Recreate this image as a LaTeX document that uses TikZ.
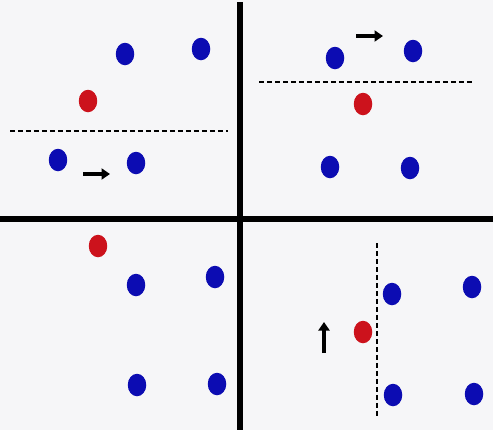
\documentclass[tikz,border=0pt]{standalone}
\usetikzlibrary{arrows.meta,shapes.geometric}
\definecolor{bg}{RGB}{246,246,248}
\definecolor{dotblue}{RGB}{12,12,178}
\definecolor{dotred}{RGB}{204,18,28}
\tikzset{
    bdot/.style={ellipse, fill=dotblue, minimum width=0.37cm, minimum height=0.45cm, inner sep=0pt},
    rdot/.style={ellipse, fill=dotred, minimum width=0.37cm, minimum height=0.45cm, inner sep=0pt},
    sep/.style={line width=1.3pt, dash pattern=on 0.1cm off 0.06cm},
    move/.style={line width=2.1pt, -{Triangle[length=0.17cm, width=0.22cm]}}
}
\begin{document}
\begin{tikzpicture}[x=0.02cm, y=-0.02cm]
                \fill[bg](0,0) rectangle (493,430);
                \useasboundingbox (0,0) rectangle (493,430);
                \draw[line width=3.6pt](240,2)--(240,430);
                \draw[line width=3.6pt](0,219)--(493,219);
                \draw[sep](10,131)--(228,131);
                \draw[sep](259,82)--(474,82);
                \draw[sep](377,243)--(377,417);
                \node[bdot] (tl1) at (125,54) {};
                \node[bdot] (tl2) at (201,49) {};
                \node[rdot] (tl3) at (88,101) {};
                \node[bdot] (tl4) at (58,160) {};
                \node[bdot] (tl5) at (136,163) {};
                \node[bdot] (tr1) at (335,58) {};
                \node[bdot] (tr2) at (413,51) {};
                \node[rdot] (tr3) at (363,104) {};
                \node[bdot] (tr4) at (330,167) {};
                \node[bdot] (tr5) at (410,168) {};
                \node[rdot] (bl1) at (98,246) {};
                \node[bdot] (bl2) at (136,285) {};
                \node[bdot] (bl3) at (215,277) {};
                \node[bdot] (bl4) at (137,385) {};
                \node[bdot] (bl5) at (217,384) {};
                \node[bdot] (br1) at (392,294) {};
                \node[bdot] (br2) at (472,287) {};
                \node[rdot] (br3) at (363,332) {};
                \node[bdot] (br4) at (393,395) {};
                \node[bdot] (br5) at (474,394) {};
                \draw[move](83,174)--(110,174);
                \draw[move](356,36)--(383,36);
                \draw[move](324,353)--(324,322);
\end{tikzpicture}
\end{document}
